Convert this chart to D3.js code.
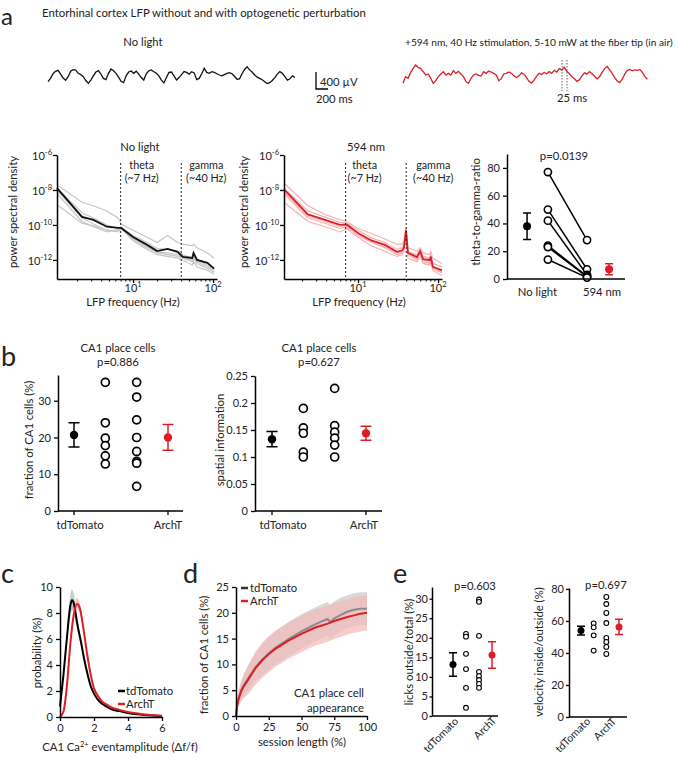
<!DOCTYPE html>
<html>
<head>
<meta charset="utf-8">
<script src="https://cdn.jsdelivr.net/npm/d3@7"></script>
<style>
  body { margin: 0; background: #fff; }
</style>
</head>
<body>
<div id="fig"></div>
<script>
// ---------- values ----------

// a: LFP traces (µV), one sample every 42 ms
var traceDt = 42;
var traceNoLight = [-157, -78, 30, 85, 110, 20, -70, -125, -39, 90, 125, 115, 39, 10, -40, -130, -196, -120, -20, 70,
  102, 20, -80, -110, 39, 140, 100, 40, -50, -150, -180, -20, 70, 95, 39, 90, 20, -60, -118, 30,
  100, 120, 78, 40, -20, -120, -185, -60, 60, 70, -20, -118, -60, 10, 80, 60, 20, 78, 50, -110,
  -80, 30, 157, 60, 40, 78, 60, 30, 0, -20, 10, 40, 55, 30, -30, -100, -90, 30, 130, 196,
  120, 70, 0, -50, -78, -110, -157, -200, -180, -130, -60, 20, 80, 40, -40, -120, -90, -20, -60];
var traceLight = [-196, -39, -78, 55, 157, 235, 180, 157, 78, 0, 24, -78, -196, -133, -39, 24, 78, 0, 39, 0,
  102, 39, 86, 24, -39, -157, -196, -78, 0, 24, -8, -24, 78, 39, 94, 70, 39, 0, -133, -86,
  24, 39, 70, 40, -20, -60, -20, 50, 20, -60, -150, -190, -120, -30, 40, 10, 60, 30, 80, 40,
  110, 70, 150, 120, 180, 90, 30, -40, -90, -150, -110, -20, 50, 20, 80, 30, -30, -90, -40, 60,
  150, 200, 120, 40, -60, -140, -180, -100, 20, 110, 130, 100, 120, 110, 130, 60, -40, -100];

// a: power spectra, log10(PSD)
var psdFreqNoLight = [1.12, 2.3, 3.2, 4.7, 6.5, 7.1, 10, 15, 20, 27, 36, 42, 55, 57, 63, 85, 103];
var psdMeanNoLight = [-7.89, -9.54, -9.71, -10.1, -10.17, -10.17, -10.69, -11.14, -11.49, -11.37, -11.54, -11.83, -11.89, -11.6, -12.0, -12.17, -12.5];
var psdSessionsNoLight = [
  [-7.7, -8.7, -8.9, -9.2, -9.6, -9.95, -10.3, -10.7, -11.0, -10.6, -11.0, -11.1, -11.2, -11.1, -11.3, -11.6, -11.9],
  [-8.85, -9.9, -10.05, -10.3, -10.4, -10.2, -10.9, -11.4, -11.7, -11.8, -11.9, -12.0, -12.3, -12.1, -12.4, -12.6, -12.8],
  [-8.2, -9.8, -10.1, -10.4, -10.25, -10.1, -10.8, -11.3, -11.6, -11.7, -11.8, -11.9, -12.1, -11.9, -12.2, -12.5, -12.7],
  [-8.0, -9.6, -9.95, -10.3, -10.35, -10.2, -10.75, -11.25, -11.55, -11.6, -11.7, -11.85, -12.0, -11.7, -12.1, -12.4, -12.6],
  [-7.9, -9.3, -9.6, -10.0, -10.2, -10.15, -10.6, -11.0, -11.35, -11.4, -11.5, -11.7, -11.9, -11.8, -12.0, -12.3, -12.55]
];
var psdFreqLight = [1.19, 2.37, 3.87, 5.96, 7.2, 10, 14.9, 21.7, 30.6, 35.5, 37.5, 39.8, 42, 54.7, 59.6, 65, 79, 81, 86, 112];
var psdMeanLight = [-7.97, -9.4, -9.71, -10.0, -9.97, -10.46, -10.9, -11.14, -11.54, -11.46, -11.3, -10.3, -11.6, -11.83, -11.5, -11.95, -12.0, -11.8, -12.4, -12.6];
var psdSessionsLight = [
  [-7.6, -8.9, -9.4, -9.7, -9.8, -10.2, -10.5, -10.8, -11.1, -11.1, -10.9, -10.1, -11.3, -11.5, -11.3, -11.6, -11.7, -11.5, -11.9, -12.2],
  [-8.7, -9.8, -10.1, -10.4, -10.2, -10.7, -11.2, -11.5, -11.8, -11.7, -11.5, -10.5, -11.9, -12.1, -11.8, -12.2, -12.3, -12.1, -12.6, -12.9],
  [-8.2, -9.6, -9.9, -10.2, -10.1, -10.6, -11.0, -11.3, -11.7, -11.6, -11.4, -10.4, -11.7, -12.0, -11.6, -12.1, -12.2, -11.9, -12.5, -12.7],
  [-7.9, -9.2, -9.55, -9.85, -9.9, -10.3, -10.75, -11.0, -11.4, -11.3, -11.1, -10.2, -11.5, -11.7, -11.4, -11.8, -11.9, -11.7, -12.2, -12.4],
  [-8.1, -9.5, -9.8, -10.1, -10.0, -10.5, -11.0, -11.25, -11.6, -11.55, -11.3, -10.35, -11.7, -11.9, -11.6, -12.0, -12.1, -11.9, -12.5, -12.75]
];

// a: theta-to-gamma ratio, paired per animal
var ratioNoLight = [77, 50, 42, 24, 23, 14];
var ratioLight = [28, 7, 3, 2, 1.5, 1];
var ratioMeans = [38, 7];
var ratioSems = [9.5, 4];

// b: place cells
var fracTd = [35, 24, 19.8, 17.8, 15, 12.8];
var fracArch = [35, 31, 24.8, 20, 16.2, 13.5, 13, 6.7];
var fracMeans = [20.7, 20];
var fracSems = [3.3, 3.5];
var siTd = [0.19, 0.154, 0.144, 0.109, 0.1];
var siArch = [0.227, 0.158, 0.146, 0.135, 0.122, 0.1];
var siMeans = [0.133, 0.144];
var siSems = [0.014, 0.013];

// c: Ca2+ event amplitude distribution (%)
var ampX = [0, 0.2, 0.4, 0.6, 0.7, 0.8, 1.0, 1.1, 1.2, 1.4, 1.6, 1.8, 2.0, 2.25, 2.5, 2.75, 3.0, 3.5, 4.0, 5.0, 6.0];
var ampTd = [0.8, 3.2, 6.0, 8.5, 9.0, 8.8, 7.3, 6.6, 6.0, 4.6, 3.4, 2.4, 1.8, 1.3, 1.0, 0.8, 0.6, 0.45, 0.3, 0.15, 0.07];
var ampTdSem = [0.2, 0.3, 0.5, 0.8, 0.8, 0.7, 0.5, 0.4, 0.35, 0.3, 0.2, 0.15, 0.12, 0.1, 0.1, 0.08, 0.06, 0.05, 0.04, 0.03, 0.02];
var ampArch = [0.0, 0.4, 2.3, 5.5, 6.8, 7.8, 8.7, 8.6, 8.2, 6.6, 4.8, 3.3, 2.2, 1.6, 1.15, 0.95, 0.75, 0.55, 0.38, 0.2, 0.1];
var ampArchSem = [0.05, 0.15, 0.3, 0.4, 0.45, 0.5, 0.45, 0.4, 0.4, 0.35, 0.3, 0.2, 0.15, 0.12, 0.1, 0.08, 0.06, 0.05, 0.04, 0.03, 0.02];

// d: cumulative place cell appearance
var sessX = [0, 1, 2, 4, 6, 8, 10, 15, 20, 25, 30, 40, 50, 60, 65, 70, 72, 75, 80, 85, 90, 95, 100];
var sessTd = [0, 2.4, 3.5, 5.0, 6.0, 6.8, 7.6, 9.5, 10.9, 12.1, 13.2, 14.9, 16.4, 17.7, 18.3, 18.8, 18.2, 18.9, 19.6, 20.2, 20.6, 20.8, 20.8];
var sessTdSem = [0, 1, 1.3, 1.8, 2.1, 2.3, 2.5, 2.8, 3.0, 3.1, 3.2, 3.3, 3.3, 3.3, 3.3, 3.3, 3.3, 3.3, 3.3, 3.2, 3.2, 3.2, 3.2];
var sessArch = [0, 2.2, 3.3, 4.8, 5.8, 6.5, 7.3, 9.3, 10.8, 12.0, 13.0, 14.6, 15.9, 17.1, 17.5, 17.9, 18.1, 18.4, 18.8, 19.2, 19.5, 19.8, 20.0];
var sessArchSem = [0, 1.2, 1.5, 2.0, 2.3, 2.6, 2.9, 3.2, 3.4, 3.5, 3.5, 3.5, 3.5, 3.5, 3.5, 3.5, 3.5, 3.5, 3.5, 3.4, 3.4, 3.4, 3.4];

// e: behaviour
var licksTd = [21, 20.3, 15.9, 12, 7.2, 2.1];
var licksArch = [29.8, 29.2, 20.5, 11.3, 10.2, 9.2, 8.2, 7.2];
var licksMeans = [13.2, 15.6];
var licksSems = [3, 3.4];
var velTd = [58.5, 56, 51, 41.5];
var velArch = [75, 70.6, 65, 58.7, 49.4, 46.9, 43.8, 39.4];
var velMeans = [54, 56.3];
var velSems = [2.7, 4.8];

var groups = ['tdTomato', 'ArchT'];

// ---------- drawing ----------
var FONT = "Lato, 'Open Sans', sans-serif";
var RED = '#dc1f26';
var PINK = '#f2b2b4';
var GREY = '#c6c6c6';
var TEXT = '#222';
var FS = 11.3;   // label size
var TS = 11;     // tick label size

var svg = d3.select('#fig').append('svg')
    .attr('width', 678)
    .attr('height', 758)
    .style('font-family', FONT);

function txt(x, y, s, size, anchor) {
    return svg.append('text')
        .attr('x', x)
        .attr('y', y)
        .attr('font-size', size || FS)
        .attr('text-anchor', anchor || 'start')
        .attr('fill', TEXT)
        .text(s);
}

function vlabel(x, y, s, size) {
    return svg.append('text')
        .attr('transform', 'translate(' + x + ',' + y + ') rotate(-90)')
        .attr('text-anchor', 'middle')
        .attr('font-size', size || FS)
        .attr('fill', TEXT)
        .text(s);
}

function styleAxis(g) {
    g.attr('font-family', FONT);
    g.select('.domain').attr('stroke', '#000').attr('stroke-width', 1.5);
    g.selectAll('.tick line').attr('stroke', '#000').attr('stroke-width', 1.3);
    g.selectAll('.tick text').attr('font-size', TS).attr('fill', TEXT);
}

function powLabel(sel, e) {
    sel.append('tspan').text('10');
    sel.append('tspan').attr('dy', -5).attr('font-size', 7.5).text(e);
}

// panel letters
txt(1, 25, 'a', 24);
txt(1, 366, 'b', 27);
txt(1, 583, 'c', 27);
txt(183, 583, 'd', 27);
txt(393, 583, 'e', 27);

// ----- a: traces -----
txt(42, 17, 'Entorhinal cortex LFP without and with optogenetic perturbation', 11.4);
txt(143, 46, 'No light', FS, 'middle');
txt(405, 46, '+594 nm, 40 Hz stimulation, 5-10 mW at the fiber tip (in air)', 10.2);

var msToPx = 12 / 200;
var uvScale = d3.scaleLinear().domain([0, 400]).range([75, 58]);

function drawTrace(vals, x0, color) {
    var xs = d3.scaleLinear()
        .domain([0, (vals.length - 1) * traceDt])
        .range([x0, x0 + (vals.length - 1) * traceDt * msToPx]);
    var line = d3.line()
        .x(function(d, i) { return xs(i * traceDt); })
        .y(function(d) { return uvScale(d); });
    svg.append('path')
        .datum(vals)
        .attr('d', line)
        .attr('fill', 'none')
        .attr('stroke', color)
        .attr('stroke-width', 1.3);
    return xs;
}
var xsBlack = drawTrace(traceNoLight, 48, '#111');
drawTrace(traceLight, 403, RED);

// scale bar
var barX = 316, barBottom = 89;
var barH = uvScale(0) - uvScale(400);
var barW = xsBlack(200) - xsBlack(0);
svg.append('path')
    .attr('d', 'M' + barX + ',' + (barBottom - barH) + 'V' + barBottom + 'H' + (barX + barW))
    .attr('fill', 'none').attr('stroke', '#000').attr('stroke-width', 1.3);
var uvLbl = txt(320, 86, '400 ', FS);
uvLbl.append('tspan').text('µV');
txt(316, 103, '200 ms', FS);

// 25 ms marker on the stimulated trace
[562, 567].forEach(function(x) {
    svg.append('line')
        .attr('x1', x).attr('x2', x).attr('y1', 60).attr('y2', 91)
        .attr('stroke', '#333').attr('stroke-width', 0.8).attr('stroke-dasharray', '1.5,1.5');
});
txt(572, 102, '25 ms', FS, 'middle');

// ----- a: spectra -----
var psdY = d3.scaleLog().domain([Math.pow(10, -13.09), 1e-6]).range([279, 155]);

function psdPanel(o) {
    var x = d3.scaleLog().domain([o.freq[0], 112]).range([o.x0, o.x1]);
    var line = d3.line()
        .x(function(d, i) { return x(o.freq[i]); })
        .y(function(d) { return psdY(Math.pow(10, d)); });

    o.sessions.forEach(function(s) {
        svg.append('path').datum(s).attr('d', line)
            .attr('fill', 'none').attr('stroke', o.light).attr('stroke-width', 1.2);
    });
    svg.append('path').datum(o.mean).attr('d', line)
        .attr('fill', 'none').attr('stroke', o.color).attr('stroke-width', 1.8);

    // band markers
    [[7, 'theta', '(~7 Hz)', o.thetaDx], [40, 'gamma', '(~40 Hz)', o.gammaDx]].forEach(function(b) {
        var bx = x(b[0]);
        svg.append('line')
            .attr('x1', bx).attr('x2', bx).attr('y1', 163).attr('y2', 279)
            .attr('stroke', '#222').attr('stroke-width', 1).attr('stroke-dasharray', '2,2');
        txt(bx + b[3], 169, b[1], 10.8, 'middle');
        txt(bx + b[3], 182, b[2], 10.8, 'middle');
    });

    // axes
    var gx = svg.append('g').attr('transform', 'translate(0,279)')
        .call(d3.axisBottom(x).tickValues([10, 100]).tickSize(4).tickSizeOuter(0).tickFormat(''));
    styleAxis(gx);
    var minor = [2, 3, 4, 5, 6, 7, 8, 9, 20, 30, 40, 50, 60, 70, 80, 90];
    var gm = svg.append('g').attr('transform', 'translate(0,279)')
        .call(d3.axisBottom(x).tickValues(minor).tickSize(2.5).tickFormat(''));
    gm.select('.domain').remove();
    gm.selectAll('.tick line').attr('stroke', '#000').attr('stroke-width', 1);
    [10, 100].forEach(function(v, i) {
        powLabel(txt(x(v), 292, '', TS, 'middle'), i + 1);
    });

    var gy = svg.append('g').attr('transform', 'translate(' + o.x0 + ',0)')
        .call(d3.axisLeft(psdY).tickValues([1e-6, 1e-8, 1e-10, 1e-12]).tickSize(4).tickSizeOuter(0).tickFormat(''));
    styleAxis(gy);
    [-6, -8, -10, -12].forEach(function(e) {
        powLabel(txt(o.x0 - 5, psdY(Math.pow(10, e)) + 5, '', TS, 'end'), e);
    });

    txt((o.x0 + o.x1) / 2 + 3, 151, o.title, FS, 'middle');
    txt((o.x0 + o.x1) / 2 - 4, 306, 'LFP frequency (Hz)', FS, 'middle');
    vlabel(o.ylabX, 212, 'power spectral density', FS);
}

psdPanel({ freq: psdFreqNoLight, mean: psdMeanNoLight, sessions: psdSessionsNoLight,
    x0: 57, x1: 217, color: '#111', light: GREY, title: 'No light',
    thetaDx: 21, gammaDx: 25, ylabX: 17 });
psdPanel({ freq: psdFreqLight, mean: psdMeanLight, sessions: psdSessionsLight,
    x0: 284, x1: 442, color: RED, light: PINK, title: '594 nm',
    thetaDx: 19, gammaDx: 27, ylabX: 248 });

// ----- error-bar helper -----
function meanDot(x, y, mean, sem, color, r, cap) {
    svg.append('path')
        .attr('d', 'M' + (x - cap) + ',' + y(mean + sem) + 'H' + (x + cap) +
                   'M' + x + ',' + y(mean + sem) + 'V' + y(mean - sem) +
                   'M' + (x - cap) + ',' + y(mean - sem) + 'H' + (x + cap))
        .attr('fill', 'none').attr('stroke', color).attr('stroke-width', 1.5);
    svg.append('circle').attr('cx', x).attr('cy', y(mean)).attr('r', r).attr('fill', color);
}

function openDots(x, y, vals, r, w) {
    vals.forEach(function(v) {
        svg.append('circle').attr('cx', x).attr('cy', y(v)).attr('r', r)
            .attr('fill', '#fff').attr('stroke', '#000').attr('stroke-width', w);
    });
}

// ----- a: theta-to-gamma ratio -----
(function() {
    var y = d3.scaleLinear().domain([0, 90]).range([279, 154]);
    var x = d3.scaleLinear().domain([0, 6]).range([507, 625]);
    var pos = { mean0: 1.02, pts0: 2.08, pts1: 4.07, mean1: 5.19 };
    ratioNoLight.forEach(function(v, i) {
        svg.append('line')
            .attr('x1', x(pos.pts0)).attr('y1', y(v))
            .attr('x2', x(pos.pts1)).attr('y2', y(ratioLight[i]))
            .attr('stroke', '#000').attr('stroke-width', 1.5);
    });
    openDots(x(pos.pts0), y, ratioNoLight, 3.6, 1.6);
    openDots(x(pos.pts1), y, ratioLight, 3.6, 1.6);
    meanDot(x(pos.mean0), y, ratioMeans[0], ratioSems[0], '#000', 4, 4);
    meanDot(x(pos.mean1), y, ratioMeans[1], ratioSems[1], RED, 4, 4);

    var gy = svg.append('g').attr('transform', 'translate(507,0)')
        .call(d3.axisLeft(y).tickValues([0, 20, 40, 60, 80]).tickSize(4).tickSizeOuter(0));
    styleAxis(gy);
    svg.append('line').attr('x1', 507).attr('x2', 625).attr('y1', 279).attr('y2', 279)
        .attr('stroke', '#000').attr('stroke-width', 1.5);
    txt(x(1.55), 296, 'No light', FS, 'middle');
    txt(x(4.83), 296, '594 nm', FS, 'middle');
    txt(564, 160, 'p=0.0139', FS, 'middle');
    vlabel(480, 212, 'theta-to-gamma-ratio', FS);
})();

// ----- scatter panels (b, e) -----
function scatterPanel(o) {
    var y = d3.scaleLinear().domain(o.ydom).range(o.yr);
    var x = d3.scalePoint().domain(['m0', 'p0', 'p1', 'm1']).range(o.xr);
    openDots(x('p0'), y, o.pts0, o.r, o.w);
    openDots(x('p1'), y, o.pts1, o.r, o.w);
    meanDot(x('m0'), y, o.means[0], o.sems[0], '#000', o.mr, o.cap);
    meanDot(x('m1'), y, o.means[1], o.sems[1], RED, o.mr, o.cap);

    var gy = svg.append('g').attr('transform', 'translate(' + o.ax0 + ',0)')
        .call(d3.axisLeft(y).tickValues(o.ticks).tickSize(o.tick || 4).tickPadding(o.pad || 3)
            .tickSizeOuter(0).tickFormat(o.fmt || null));
    styleAxis(gy);
    svg.append('line').attr('x1', o.ax0).attr('x2', o.ax1).attr('y1', o.yr[0]).attr('y2', o.yr[0])
        .attr('stroke', '#000').attr('stroke-width', 1.5);
    return { x: x, y: y };
}

// b left
(function() {
    var s = scatterPanel({ ydom: [0, 37], yr: [511, 375], xr: [74, 168], ax0: 58, ax1: 183,
        pts0: fracTd, pts1: fracArch, means: fracMeans, sems: fracSems,
        r: 4, w: 1.7, mr: 4.2, cap: 5.5, ticks: [0, 10, 20, 30] });
    [s.x('m0'), s.x('m1')].forEach(function(tx) {
        svg.append('line').attr('x1', tx).attr('x2', tx).attr('y1', 511).attr('y2', 515)
            .attr('stroke', '#000').attr('stroke-width', 1.3);
    });
    txt(s.x('m0') + 6, 529, groups[0], FS, 'middle');
    txt(s.x('m1'), 529, groups[1], FS, 'middle');
    txt(118, 352, 'CA1 place cells', FS, 'middle');
    txt(118, 366, 'p=0.886', FS, 'middle');
    vlabel(33, 440, 'fraction of CA1 cells (%)', FS);
})();

// b right
(function() {
    var s = scatterPanel({ ydom: [0, 0.25], yr: [511, 376], xr: [272, 366], ax0: 255, ax1: 382,
        pts0: siTd, pts1: siArch, means: siMeans, sems: siSems,
        r: 4, w: 1.7, mr: 4.2, cap: 5.5, ticks: [0, 0.05, 0.1, 0.15, 0.2, 0.25],
        fmt: function(d) { return d === 0 ? '0' : String(+d.toFixed(2)); } });
    [s.x('m0'), s.x('m1')].forEach(function(tx) {
        svg.append('line').attr('x1', tx).attr('x2', tx).attr('y1', 511).attr('y2', 515)
            .attr('stroke', '#000').attr('stroke-width', 1.3);
    });
    txt(s.x('m0') + 11, 529, groups[0], FS, 'middle');
    txt(s.x('m1') - 2, 529, groups[1], FS, 'middle');
    txt(319, 352, 'CA1 place cells', FS, 'middle');
    txt(319, 366, 'p=0.627', FS, 'middle');
    vlabel(224, 440, 'spatial information', FS);
})();

// ----- c: amplitude distribution -----
(function() {
    var x = d3.scaleLinear().domain([0, 6]).range([60, 162]);
    var y = d3.scaleLinear().domain([0, 10]).range([717, 587]);
    var area = function(sem) {
        return d3.area()
            .x(function(d, i) { return x(ampX[i]); })
            .y0(function(d, i) { return y(d - sem[i]); })
            .y1(function(d, i) { return y(d + sem[i]); })
            .curve(d3.curveMonotoneX);
    };
    var line = d3.line()
        .x(function(d, i) { return x(ampX[i]); })
        .y(function(d) { return y(d); })
        .curve(d3.curveMonotoneX);
    svg.append('path').datum(ampTd).attr('d', area(ampTdSem)).attr('fill', '#bdbdbd').attr('opacity', 0.8);
    svg.append('path').datum(ampArch).attr('d', area(ampArchSem)).attr('fill', PINK).attr('opacity', 0.8);
    svg.append('path').datum(ampTd).attr('d', line).attr('fill', 'none').attr('stroke', '#000').attr('stroke-width', 2);
    svg.append('path').datum(ampArch).attr('d', line).attr('fill', 'none').attr('stroke', RED).attr('stroke-width', 2);

    var gx = svg.append('g').attr('transform', 'translate(0,717)')
        .call(d3.axisBottom(x).tickValues([0, 2, 4, 6]).tickSize(4).tickSizeOuter(0).tickFormat(d3.format('d')));
    styleAxis(gx);
    var gy = svg.append('g').attr('transform', 'translate(60,0)')
        .call(d3.axisLeft(y).tickValues([0, 2, 4, 6, 8, 10]).tickSize(4).tickSizeOuter(0).tickFormat(d3.format('d')));
    styleAxis(gy);

    [['#000', groups[0], 691], [RED, groups[1], 704]].forEach(function(l) {
        svg.append('line').attr('x1', 118).attr('x2', 125).attr('y1', l[2]).attr('y2', l[2])
            .attr('stroke', l[0]).attr('stroke-width', 2.5);
        txt(126, l[2] + 4, l[1], FS);
    });
    vlabel(41, 653, 'probability (%)', FS);
    var xl = txt(120, 751, 'CA1 Ca', FS, 'middle');
    xl.append('tspan').attr('dy', -4).attr('font-size', 7.5).text('2+');
    xl.append('tspan').attr('dy', 4).text(' eventamplitude (\u0394f/f)');
})();

// ----- d: place cell appearance -----
(function() {
    var x = d3.scaleLinear().domain([0, 100]).range([236, 367]);
    var y = d3.scaleLinear().domain([0, 25]).range([716, 587]);
    var area = function(sem) {
        return d3.area()
            .x(function(d, i) { return x(sessX[i]); })
            .y0(function(d, i) { return y(d - sem[i]); })
            .y1(function(d, i) { return y(d + sem[i]); });
    };
    var line = d3.line()
        .x(function(d, i) { return x(sessX[i]); })
        .y(function(d) { return y(d); });
    svg.append('path').datum(sessTd).attr('d', area(sessTdSem)).attr('fill', '#c4c4c4').attr('opacity', 0.65);
    svg.append('path').datum(sessArch).attr('d', area(sessArchSem)).attr('fill', '#f4b9b9').attr('opacity', 0.7);
    svg.append('path').datum(sessTd).attr('d', line).attr('fill', 'none').attr('stroke', '#8a8a8a').attr('stroke-width', 2);
    svg.append('path').datum(sessArch).attr('d', line).attr('fill', 'none').attr('stroke', RED).attr('stroke-width', 2);

    var gx = svg.append('g').attr('transform', 'translate(0,716)')
        .call(d3.axisBottom(x).tickValues([0, 25, 50, 75, 100]).tickSize(4).tickSizeOuter(0));
    styleAxis(gx);
    var gy = svg.append('g').attr('transform', 'translate(236,0)')
        .call(d3.axisLeft(y).tickValues([0, 5, 10, 15, 20, 25]).tickSize(4).tickSizeOuter(0));
    styleAxis(gy);

    [['#333', groups[0], 588], [RED, groups[1], 601]].forEach(function(l) {
        svg.append('line').attr('x1', 241).attr('x2', 248).attr('y1', l[2]).attr('y2', l[2])
            .attr('stroke', l[0]).attr('stroke-width', 2.5);
        txt(250, l[2] + 4, l[1], FS);
    });
    txt(364, 697, 'CA1 place cell', FS, 'end');
    txt(364, 712, 'appearance', FS, 'end');
    txt(302, 746, 'session length (%)', FS, 'middle');
    vlabel(208, 655, 'fraction of  CA1 cells (%)', FS);
})();

// ----- e: behaviour -----
function rotLabel(x, y, s) {
    svg.append('text')
        .attr('transform', 'translate(' + x + ',' + y + ') rotate(-45)')
        .attr('text-anchor', 'end')
        .attr('font-size', 10.6)
        .attr('fill', TEXT)
        .text(s);
}

(function() {
    var s = scatterPanel({ ydom: [0, 33], yr: [716, 587], xr: [453, 492], ax0: 432, ax1: 498,
        pts0: licksTd, pts1: licksArch, means: licksMeans, sems: licksSems,
        r: 2.4, w: 1.1, mr: 3.5, cap: 4, tick: 2.5, pad: 1.5, ticks: [0, 5, 10, 15, 20, 25, 30] });
    rotLabel(s.x('m0') + 6, 722, groups[0]);
    rotLabel(s.x('m1') + 5, 721, groups[1]);
    txt(475, 590, 'p=0.603', FS, 'middle');
    vlabel(413, 652, 'licks outside/total (%)', FS);
})();

(function() {
    var s = scatterPanel({ ydom: [0, 80.6], yr: [717, 588], xr: [581, 619], ax0: 569, ax1: 627,
        pts0: velTd, pts1: velArch, means: velMeans, sems: velSems,
        r: 2.4, w: 1.1, mr: 3.5, cap: 4, tick: 3, pad: 2, ticks: [0, 20, 40, 60, 80] });
    rotLabel(s.x('m0') + 10, 722, groups[0]);
    rotLabel(s.x('m1') - 2, 722, groups[1]);
    txt(606, 589, 'p=0.697', FS, 'middle');
    vlabel(543, 652, 'velocity inside/outside (%)', FS);
})();
</script>
</body>
</html>
